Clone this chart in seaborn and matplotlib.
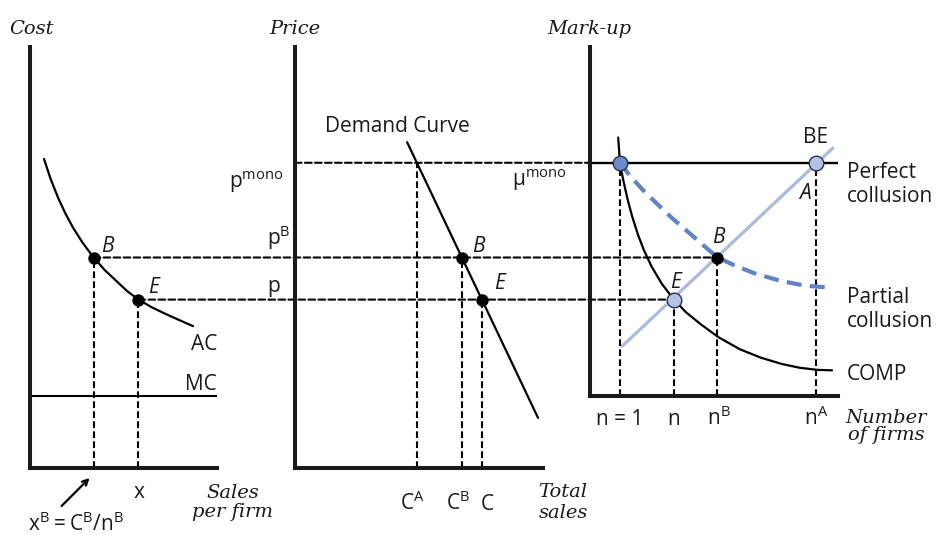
import matplotlib
matplotlib.use("Agg")
import matplotlib.pyplot as plt
import seaborn as sns
from matplotlib.patches import ConnectionPatch
from matplotlib.transforms import offset_copy

# price / cost levels shared by the three panels
mc = 1.7
p_mono = 7.25
p_b = 5.0
p_e = 4.0

# left panel: average cost curve of one firm
ac_x = [0.75, 1.1, 1.5, 1.9, 2.3, 2.8, 3.4, 4.0, 4.6, 5.2, 5.8, 6.5, 7.2, 8.0, 8.72]
ac_y = [7.34, 6.87, 6.42, 6.04, 5.71, 5.36, 5.0, 4.70, 4.45, 4.2, 4.0, 3.82, 3.67, 3.51, 3.37]
x_b = 3.4
x_e = 5.8

# middle panel: market demand
demand_x = [4.52, 9.8]
demand_y = [7.74, 1.19]
c_a = 4.92
c_b = 6.73
c_e = 7.53

# right panel: mark-up against number of firms
mu_mono = p_mono - mc
mu_b = p_b - mc
mu_e = p_e - mc
n_one = 1.0
n_e = 2.8
n_b = 4.25
n_a = 7.55
comp_x = [0.94, 1.0, 1.1, 1.25, 1.4, 1.6, 1.8, 2.05, 2.4, 2.8, 3.2, 3.7,
          4.3, 5.0, 5.7, 6.4, 7.0, 7.6, 8.07]
comp_y = [6.15, 5.55, 5.17, 4.69, 4.29, 3.84, 3.47, 3.09, 2.67, 2.3, 2.0, 1.71,
          1.40, 1.12, 0.92, 0.77, 0.68, 0.63, 0.62]
partial_x = [1.0, 1.33, 1.73, 2.2, 2.73, 3.33, 3.83, 4.25, 4.83, 5.5, 6.33, 7.17, 8.1]
partial_y = [5.55, 5.24, 4.93, 4.6, 4.24, 3.87, 3.56, 3.3, 3.11, 2.92, 2.75, 2.63, 2.58]
be_x = [1.07, 8.1]
be_y = [1.19, 5.9]

W, H = 937, 535
sns.set_style("white")
plt.rcParams["font.family"] = ["Open Sans", "DejaVu Sans"]
SERIF = dict(family="DejaVu Serif", style="italic", fontsize=14)

fig = plt.figure(figsize=(W / 100, H / 100), dpi=100)

DASH = (0, (3.2, 1.6))
BLUE = "#5f82c8"
LIGHT = "#a9badf"


def panel(x0, x1, top, bottom, xmax, ymax):
    ax = fig.add_axes([x0 / W, 1 - bottom / H, (x1 - x0) / W, (bottom - top) / H])
    ax.set_xlim(0, xmax)
    ax.set_ylim(0, ymax)
    ax.set_xticks([])
    ax.set_yticks([])
    ax.set_facecolor("none")
    sns.despine(ax=ax)
    for side in ["left", "bottom"]:
        ax.spines[side].set_linewidth(2.9)
        ax.spines[side].set_color("#1a1a1a")
        ax.spines[side].set_capstyle("projecting")
    return ax


def shift(ax, dx, dy):
    # offset in pixels, dy counted downwards
    return offset_copy(ax.transData, fig=fig, x=dx, y=-dy, units="dots")


def label(ax, x, y, s, dx, dy, ha="left", **kw):
    kw.setdefault("fontsize", 15)
    ax.text(x, y, s, transform=shift(ax, dx, dy), ha=ha, va="baseline",
            clip_on=False, color="#1a1a1a", **kw)


def vdash(ax, x, y):
    ax.plot([x, x], [0, y], color="black", lw=1.5, linestyle=DASH, zorder=2)


def link(ax_a, xy_a, ax_b, xy_b):
    con = ConnectionPatch(xyA=xy_a, coordsA=ax_a.transData, xyB=xy_b,
                          coordsB=ax_b.transData, color="black", lw=1.5,
                          linestyle=DASH, zorder=-1)
    fig.add_artist(con)


ax1 = panel(30, 217, 47, 468, 10, 10)
ax2 = panel(295, 543, 47, 468, 10, 10)
ax3 = panel(590, 838, 47, 468 - mc * 42.1, 8.27, 10 - mc)

# ---- left panel
sns.lineplot(x=ac_x, y=ac_y, ax=ax1, sort=False, color="black", lw=1.6)
ax1.plot([0, 10], [mc, mc], color="black", lw=1.5)
vdash(ax1, x_b, p_b)
vdash(ax1, x_e, p_e)
sns.scatterplot(x=[x_b, x_e], y=[p_b, p_e], ax=ax1, color="black", s=80,
                linewidth=0, zorder=5, clip_on=False, legend=False)
label(ax1, x_b, p_b, "B", 8, -6, style="italic")
label(ax1, x_e, p_e, "E", 10, -7, style="italic")
label(ax1, ac_x[-1], ac_y[-1], "AC", 24, 24, ha="right")
label(ax1, 10, mc, "MC", 0, -6, ha="right")
label(ax1, x_e, 0, "x", 1, 30, ha="center")
label(ax1, 10, 0, "Sales", 16, 30, ha="center", **SERIF)
label(ax1, 10, 0, "per firm", 16, 49, ha="center", **SERIF)
label(ax1, 0, 0, r"$\mathregular{x^B = C^B/n^B}$", -2, 63)
label(ax1, 0, 10, "Cost", 1, -13, ha="center", **SERIF)
ax1.annotate("", xy=(x_b, 0), xycoords=shift(ax1, -4, 10),
             xytext=(x_b, 0), textcoords=shift(ax1, -32, 38),
             arrowprops=dict(arrowstyle="->", lw=1.6, color="black",
                             shrinkA=0, shrinkB=0), annotation_clip=False)

# ---- middle panel
sns.lineplot(x=demand_x, y=demand_y, ax=ax2, sort=False, color="black", lw=1.6)
vdash(ax2, c_a, p_mono)
vdash(ax2, c_b, p_b)
vdash(ax2, c_e, p_e)
sns.scatterplot(x=[c_b, c_e], y=[p_b, p_e], ax=ax2, color="black", s=80,
                linewidth=0, zorder=5, clip_on=False, legend=False)
label(ax2, demand_x[0], demand_y[0], "Demand Curve", -82, -10)
label(ax2, c_b, p_b, "B", 10, -6, style="italic")
label(ax2, c_e, p_e, "E", 12, -11, style="italic")
label(ax2, 0, p_mono, r"$\mathregular{p^{mono}}$", -12, 25, ha="right")
label(ax2, 0, p_b, r"$\mathregular{p^B}$", -28, -13)
label(ax2, 0, p_e, "p", -28, -8)
label(ax2, c_a, 0, r"$\mathregular{C^A}$", -17, 42)
label(ax2, c_b, 0, r"$\mathregular{C^B}$", -16, 42)
label(ax2, c_e, 0, "C", -1, 42)
label(ax2, 10, 0, "Total", 20, 29, ha="center", **SERIF)
label(ax2, 10, 0, "sales", 20, 50, ha="center", **SERIF)
label(ax2, 0, 10, "Price", 0, -13, ha="center", **SERIF)

# ---- right panel
ax3.plot([0, 8.27], [mu_mono, mu_mono], color="black", lw=1.7, zorder=2)
sns.lineplot(x=be_x, y=be_y, ax=ax3, sort=False, color=LIGHT, lw=2.3, zorder=2)
sns.lineplot(x=comp_x, y=comp_y, ax=ax3, sort=False, color="black", lw=1.6, zorder=3)
sns.lineplot(x=partial_x, y=partial_y, ax=ax3, sort=False, color=BLUE, lw=3,
             linestyle=(0, (3.6, 2.0)), zorder=3)
vdash(ax3, n_one, mu_mono)
vdash(ax3, n_e, mu_e)
vdash(ax3, n_b, mu_b)
vdash(ax3, n_a, mu_mono)
sns.scatterplot(x=[n_one], y=[mu_mono], ax=ax3, color="#6a8bcc", s=110,
                edgecolor="#26334d", linewidth=1, zorder=5, clip_on=False, legend=False)
sns.scatterplot(x=[n_a, n_e], y=[mu_mono, mu_e], ax=ax3, color="#b3c2e6", s=110,
                edgecolor="#26334d", linewidth=1, zorder=5, clip_on=False, legend=False)
sns.scatterplot(x=[n_b], y=[mu_b], ax=ax3, color="black", s=80,
                linewidth=0, zorder=5, clip_on=False, legend=False)
label(ax3, 0, mu_mono, r"$\mathregular{μ^{mono}}$", -23, 23, ha="right")
label(ax3, n_a, mu_mono, "BE", -1, -20, ha="center")
label(ax3, n_a, mu_mono, "A", -5, 36, ha="right", style="italic")
label(ax3, n_b, mu_b, "B", 1, -15, ha="center", style="italic")
label(ax3, n_e, mu_e, "E", 2, -12, ha="center", style="italic")
label(ax3, 8.27, mu_mono, "Perfect", 9, 15)
label(ax3, 8.27, mu_mono, "collusion", 9, 39)
label(ax3, partial_x[-1], partial_y[-1], "Partial", 14, 15)
label(ax3, partial_x[-1], partial_y[-1], "collusion", 14, 39)
label(ax3, comp_x[-1], comp_y[-1], "COMP", 15, 10)
label(ax3, n_one, 0, "n = 1", 0, 29, ha="center")
label(ax3, n_e, 0, "n", 0, 29, ha="center")
label(ax3, n_b, 0, r"$\mathregular{n^B}$", -10, 29)
label(ax3, n_a, 0, r"$\mathregular{n^A}$", -12, 29)
label(ax3, 8.27, 0, "Number", 48, 27, ha="center", **SERIF)
label(ax3, 8.27, 0, "of firms", 48, 44, ha="center", **SERIF)
label(ax3, 0, 10 - mc, "Mark-up", -1, -13, ha="center", **SERIF)

# dashed links running across the panels
link(ax2, (0, p_mono), ax3, (0, mu_mono))
link(ax1, (x_b, p_b), ax3, (n_b, mu_b))
link(ax1, (x_e, p_e), ax3, (n_e, mu_e))

fig.savefig("out.png", dpi=100)
